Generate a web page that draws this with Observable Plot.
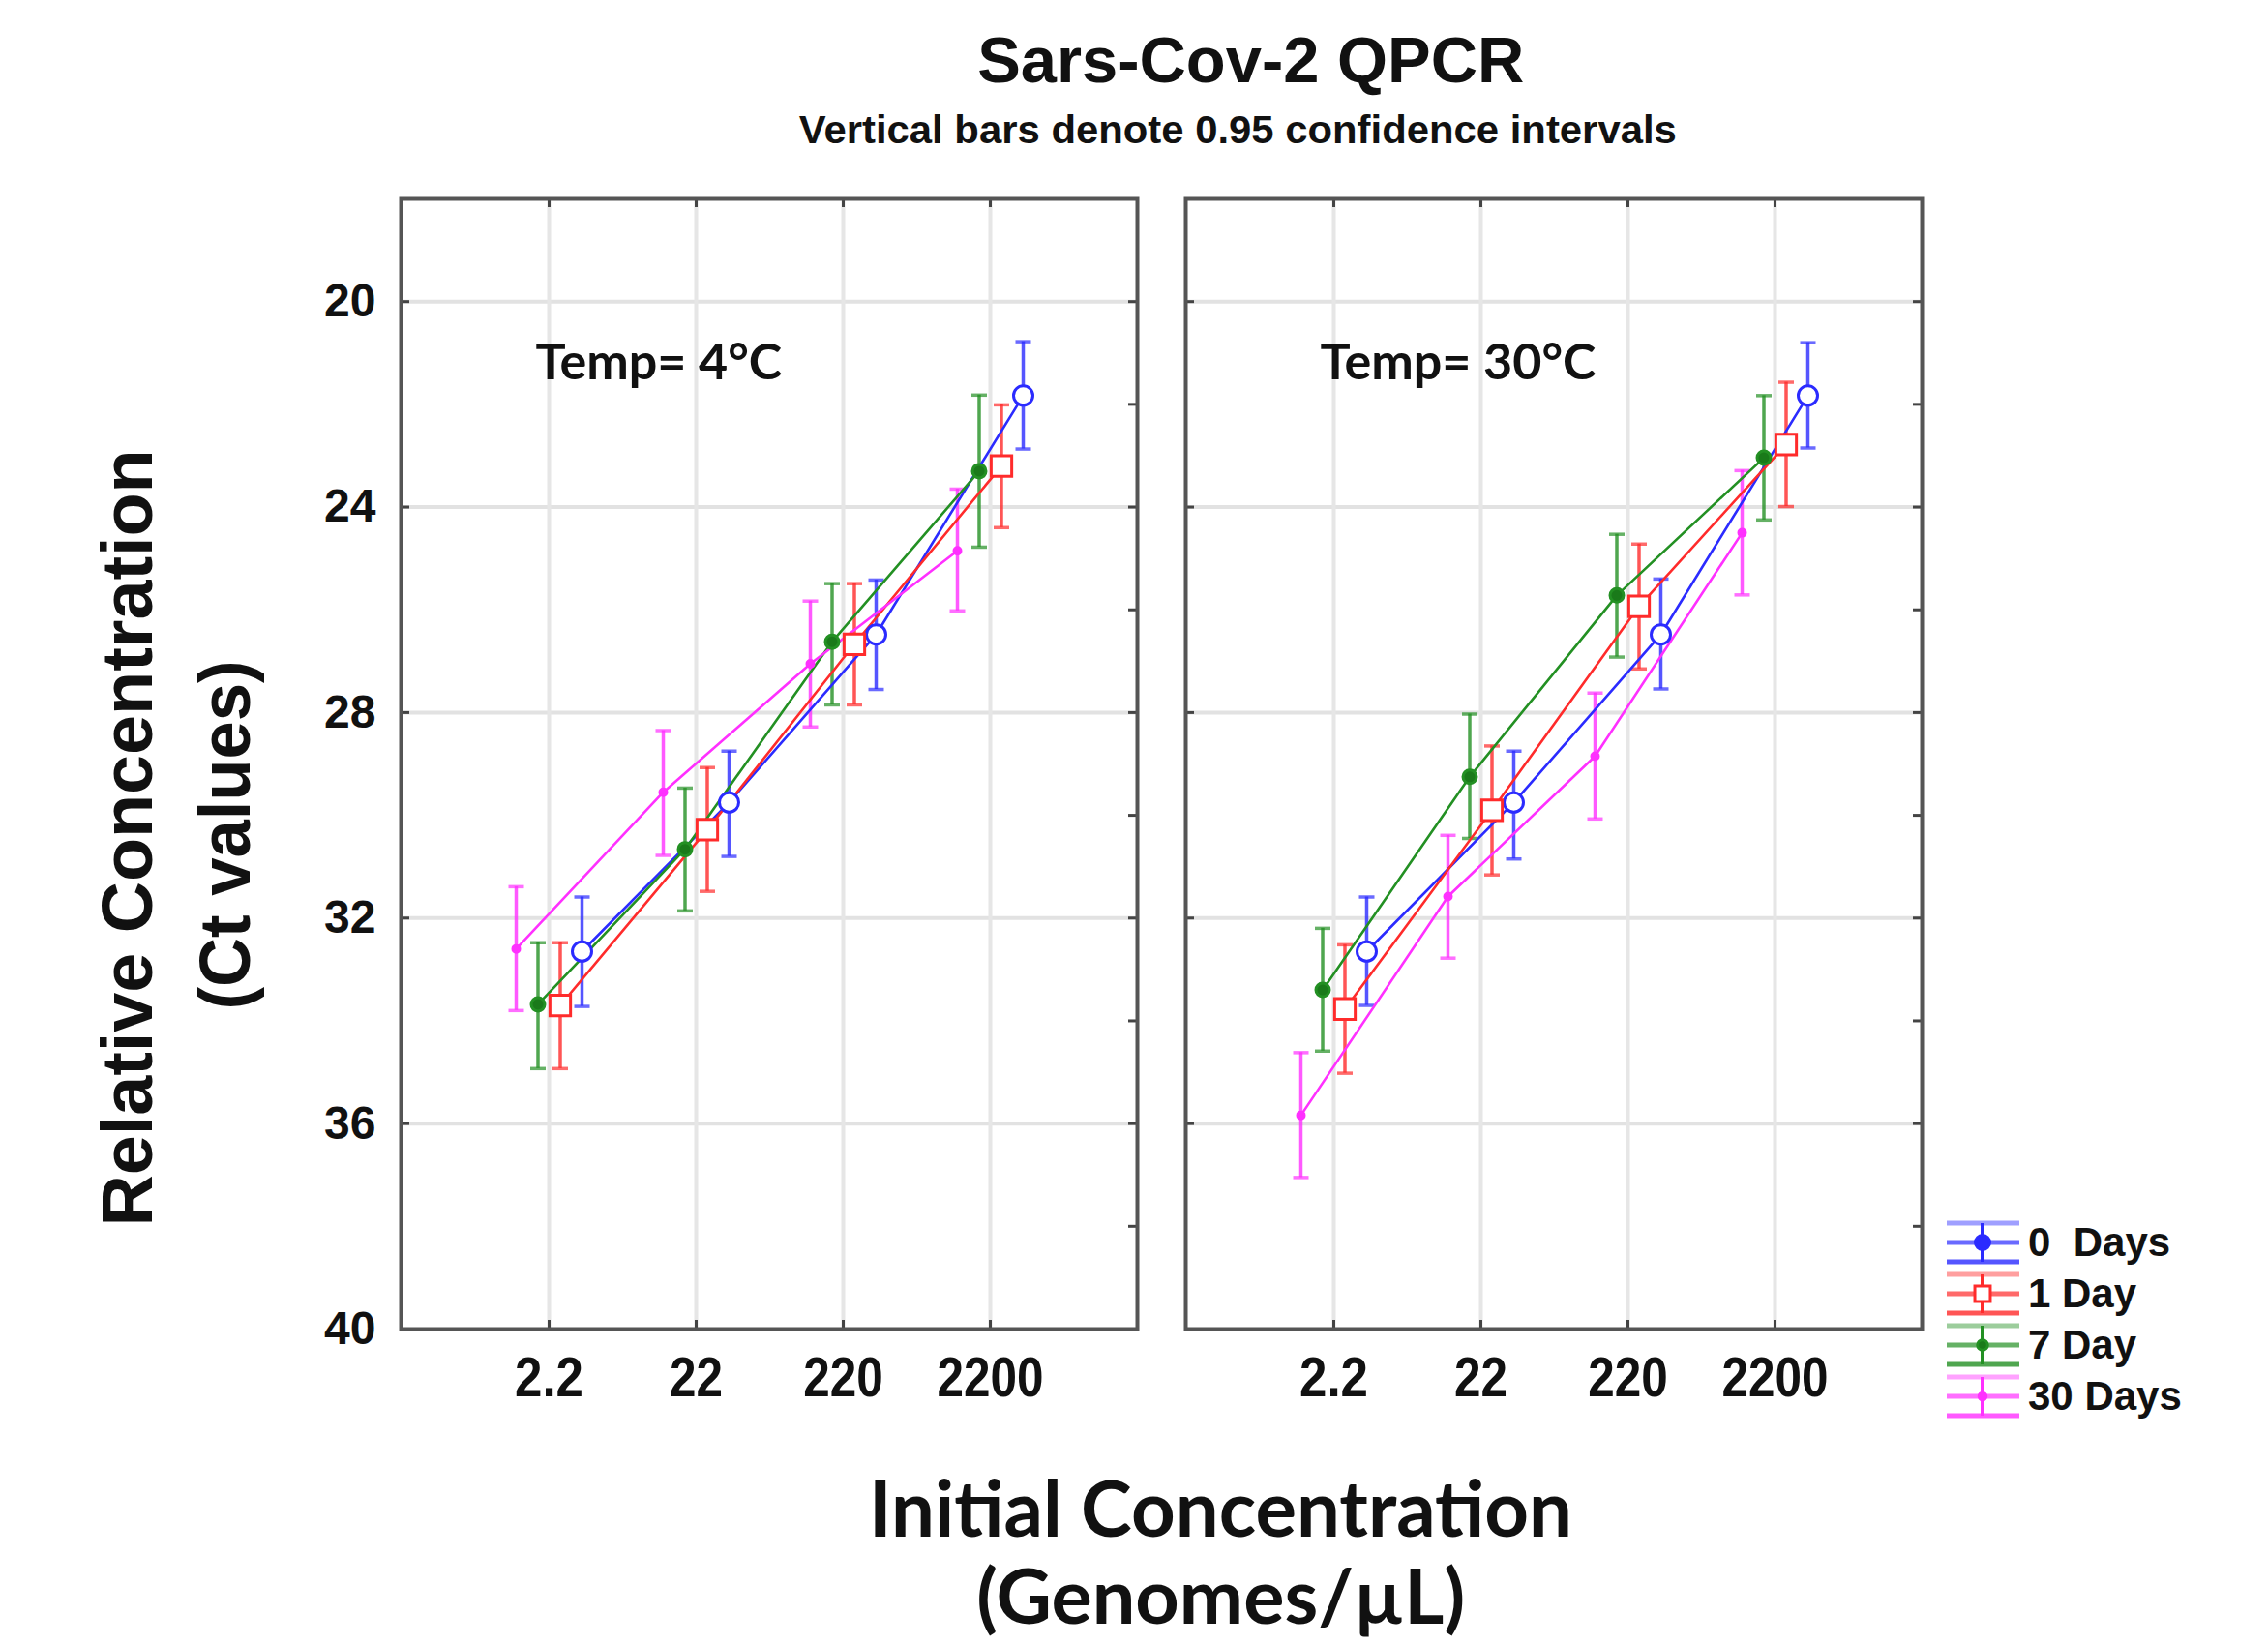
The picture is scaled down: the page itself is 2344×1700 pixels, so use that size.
<!DOCTYPE html>
<html><head><meta charset="utf-8">
<script src="https://cdn.jsdelivr.net/npm/d3@7"></script>
<script src="https://cdn.jsdelivr.net/npm/@observablehq/plot@0.6"></script>
<style>
html,body{margin:0;padding:0;background:#fff;}
#root{position:relative;width:2344px;height:1700px;overflow:hidden;background:#fff;}
.lbl{position:absolute;white-space:pre;line-height:1;color:#111;transform-origin:50% 50%;}
#plot{position:absolute;left:0;top:170px;}
#plot svg text{font-weight:bold;}
#legend{position:absolute;left:2010px;top:1258px;font-family:'Liberation Sans',Arial,sans-serif;font-weight:bold;font-size:42px;color:#111;}
#legend .row{position:relative;height:53px;}
#legend .row svg{position:absolute;left:0;top:3px;}
#legend .row span{position:absolute;left:86px;top:5px;white-space:pre;line-height:1;}
</style></head><body><div id="root"><div id="plot"></div><div id="legend"></div></div>
<script>
// ---------- data ----------
const concentrations = ["2.2", "22", "220", "2200"];
const temperatures = ["4°C", "30°C"];
const panelLabels = ["Temp= 4°C", "Temp= 30°C"];
const seriesNames = ["0  Days", "1 Day", "7 Day", "30 Days"];
const yTickValues = [20, 24, 28, 32, 36, 40];
const yGridValues = [20, 24, 28, 32, 36];
const yMinorValues = [20, 22, 24, 26, 28, 30, 32, 34, 36, 38];

// mean Ct, rows = series (0, 1, 7, 30 days), columns = concentrations
const ct4Mean = [
  [32.65, 29.75, 26.48, 21.83],
  [33.70, 30.28, 26.67, 23.20],
  [33.68, 30.66, 26.62, 23.30],
  [32.60, 29.55, 27.05, 24.85]
];
const ct4Low = [
  [31.59, 28.75, 25.42, 20.78],
  [32.48, 29.07, 25.49, 22.01],
  [32.48, 29.47, 25.49, 21.82],
  [31.39, 28.35, 25.83, 23.65]
];
const ct4High = [
  [33.72, 30.80, 27.55, 22.87],
  [34.93, 31.48, 27.85, 24.40],
  [34.93, 31.86, 27.85, 24.78],
  [33.80, 30.78, 28.28, 26.02]
];
const ct30Mean = [
  [32.65, 29.75, 26.48, 21.83],
  [33.77, 29.90, 25.93, 22.78],
  [33.40, 29.25, 25.72, 23.04],
  [35.84, 31.58, 28.85, 24.50]
];
const ct30Low = [
  [31.59, 28.75, 25.40, 20.80],
  [32.52, 28.65, 24.72, 21.57],
  [32.20, 28.03, 24.53, 21.83],
  [34.62, 30.39, 27.62, 23.29]
];
const ct30High = [
  [33.70, 30.85, 27.54, 22.85],
  [35.02, 31.16, 27.15, 23.99],
  [34.59, 30.45, 26.92, 24.25],
  [37.05, 32.78, 30.07, 25.71]
];

// ---------- styling ----------
const seriesColors = ["#2b2bff", "#ff2b2b", "#239023", "#ff30ff"];
const seriesDx = [34, 11.5, -11.5, -34];
const seriesSymbol = ["circle", "square", "circle", "circle"];
const seriesR = [10, 12, 7, 3.5];
const seriesFill = ["white", "white", "#1a7a1a", "#ff30ff"];

const tables = {"4°C": [ct4Mean, ct4Low, ct4High], "30°C": [ct30Mean, ct30Low, ct30High]};
const rows = [];
temperatures.forEach(t => {
  const [m, lo, hi] = tables[t];
  seriesNames.forEach((s, si) => {
    concentrations.forEach((c, ci) => {
      rows.push({temp: t, series: s, si, conc: c, ct: m[si][ci], lo: lo[si][ci], hi: hi[si][ci]});
    });
  });
});
const panels = temperatures.map((t, i) => ({temp: t, label: panelLabels[i]}));

const capSymbol = {draw(ctx, size) { const r = Math.sqrt(size / Math.PI); ctx.moveTo(-r, 0); ctx.lineTo(r, 0); }};

const W = 2344, H = 1300, ML = 414, MR = 358, MT = 35, MB = 97;
const PW = 761, PH = H - MT - MB;

const marks = [
  Plot.ruleY(yGridValues, {stroke: "#e2e2e2", strokeWidth: 4}),
  Plot.ruleX(concentrations, {stroke: "#e6e6e6", strokeWidth: 4}),
  Plot.tickY(yGridValues, {stroke: "#444", strokeWidth: 3, insetRight: PW - 9}),
  Plot.tickY(yMinorValues, {stroke: "#444", strokeWidth: 3, insetLeft: PW - 9}),
  Plot.tickX(concentrations, {stroke: "#444", strokeWidth: 3, insetBottom: PH - 9}),
  Plot.tickX(concentrations, {stroke: "#444", strokeWidth: 3, insetTop: PH - 9}),
  Plot.frame({stroke: "#555", strokeWidth: 4})
];
seriesNames.forEach((s, si) => {
  const d = rows.filter(r => r.si === si);
  const col = seriesColors[si], dx = seriesDx[si];
  marks.push(
    Plot.ruleX(d, {x: "conc", y1: "lo", y2: "hi", fx: "temp", dx, stroke: col, strokeWidth: 3.5, strokeOpacity: 0.8}),
    Plot.dot(d, {x: "conc", y: "lo", fx: "temp", dx, symbol: capSymbol, r: 8, stroke: col, strokeWidth: 3.5, strokeOpacity: 0.7, fill: "none"}),
    Plot.dot(d, {x: "conc", y: "hi", fx: "temp", dx, symbol: capSymbol, r: 8, stroke: col, strokeWidth: 3.5, strokeOpacity: 0.7, fill: "none"})
  );
});
seriesNames.forEach((s, si) => {
  const d = rows.filter(r => r.si === si);
  marks.push(Plot.line(d, {x: "conc", y: "ct", z: "temp", fx: "temp", dx: seriesDx[si], stroke: seriesColors[si], strokeWidth: 2.6}));
});
seriesNames.forEach((s, si) => {
  const d = rows.filter(r => r.si === si);
  marks.push(Plot.dot(d, {x: "conc", y: "ct", fx: "temp", dx: seriesDx[si], symbol: seriesSymbol[si], r: seriesR[si],
    stroke: seriesColors[si], strokeWidth: 3, fill: seriesFill[si]}));
});
marks.push(
  Plot.axisY(yTickValues, {tickSize: 0, tickPadding: 26, fontSize: 48, label: null, tickFormat: d => String(d)}),
  Plot.axisX({tickSize: 0, tickPadding: 29, fontSize: 57, label: null}),
  Plot.text(panels, {fx: "temp", text: "label", frameAnchor: "top-left", dx: 139, dy: 186, lineAnchor: "bottom",
    textAnchor: "start", fontSize: 52, fontWeight: "bold", fill: "#111", fontFamily: "Lato, 'Liberation Sans', sans-serif"})
);

const chart = Plot.plot({
  width: W, height: H,
  marginLeft: ML, marginRight: MR, marginTop: MT, marginBottom: MB,
  fx: {domain: temperatures, paddingInner: 0.0617, paddingOuter: 0, axis: null, label: null},
  x: {type: "point", domain: concentrations, padding: 1, label: null},
  y: {domain: [18, 40], reverse: true, label: null},
  style: {fontFamily: "'Liberation Sans', Arial, sans-serif", background: "white", color: "#111", overflow: "visible"},
  marks
});
document.getElementById("plot").appendChild(chart);

// condensed x tick labels
d3.select(chart).selectAll('g[aria-label="x-axis tick label"] text').each(function() {
  const t = this.textContent;
  const n = t.replace(/[^0-9]/g, "").length, p = t.length - n;
  d3.select(this).attr("textLength", n * 27.5 + p * 16).attr("lengthAdjust", "spacingAndGlyphs");
});

// ---------- titles ----------
const root = document.getElementById("root");
function placeText(txt, o) {
  const d = document.createElement("div");
  d.className = "lbl";
  d.style.fontSize = o.size + "px";
  d.style.fontFamily = o.family;
  d.style.fontWeight = o.weight || "bold";
  const sp = document.createElement("span"); sp.textContent = txt; d.appendChild(sp);
  const bl = document.createElement("span");
  bl.style.cssText = "display:inline-block;width:0;height:0;vertical-align:baseline";
  d.appendChild(bl);
  root.appendChild(d);
  const w = sp.getBoundingClientRect().width;
  const h = d.getBoundingClientRect().height;
  const base = bl.offsetTop;
  const s = o.target ? o.target / w : 1;
  if (!o.rotate) {
    d.style.left = (o.cx - w / 2) + "px";
    d.style.top = (o.baseline - base) + "px";
    d.style.transform = `scaleX(${s})`;
  } else {
    const boxCx = o.baseline - base + h / 2;
    d.style.left = (boxCx - w / 2) + "px";
    d.style.top = (o.cy - h / 2) + "px";
    d.style.transform = `rotate(-90deg) scaleX(${s})`;
  }
}
const arial = "'Liberation Sans', Arial, sans-serif";
const calib = "Lato, 'Open Sans', sans-serif";
placeText("Sars-Cov-2 QPCR", {cx: 1293, baseline: 85, size: 66, family: arial, target: 565});
placeText("Vertical bars denote 0.95 confidence intervals", {cx: 1279, baseline: 148, size: 41, family: arial, target: 907});
placeText("Initial Concentration", {cx: 1262, baseline: 1588, size: 81, family: calib, target: 727});
placeText("(Genomes/µL)", {cx: 1262, baseline: 1678, size: 78, family: calib, target: 505});
placeText("Relative Concentration", {rotate: true, cy: 866, baseline: 157, size: 74, family: arial, target: 803});
placeText("(Ct values)", {rotate: true, cy: 863, baseline: 258, size: 74, family: arial, target: 361});

// ---------- legend ----------
const legend = document.getElementById("legend");
seriesNames.forEach((s, si) => {
  const row = document.createElement("div"); row.className = "row";
  const col = seriesColors[si];
  const ns = "http://www.w3.org/2000/svg";
  const svg = document.createElementNS(ns, "svg");
  svg.setAttribute("width", 80); svg.setAttribute("height", 48);
  const line = (x1, y1, x2, y2, w, op) => {
    const l = document.createElementNS(ns, "line");
    l.setAttribute("x1", x1); l.setAttribute("y1", y1); l.setAttribute("x2", x2); l.setAttribute("y2", y2);
    l.setAttribute("stroke", col); l.setAttribute("stroke-width", w); l.setAttribute("stroke-opacity", op);
    svg.appendChild(l);
  };
  line(2, 3, 77, 3, 5, 0.45);
  line(2, 43, 77, 43, 5, 0.8);
  line(2, 23, 77, 23, 5, 0.7);
  line(39, 3, 39, 43, 4, 1);
  const sym = d3.symbol(seriesSymbol[si] === "square" ? d3.symbolSquare : d3.symbolCircle, Math.PI * Math.pow(Math.max(seriesR[si], 5) * 0.75, 2))();
  const p = document.createElementNS(ns, "path");
  p.setAttribute("d", sym); p.setAttribute("transform", "translate(39,23)");
  p.setAttribute("fill", si === 0 ? col : seriesFill[si]); p.setAttribute("stroke", col); p.setAttribute("stroke-width", 3);
  svg.appendChild(p);
  row.appendChild(svg);
  const sp = document.createElement("span"); sp.textContent = s; row.appendChild(sp);
  legend.appendChild(row);
});
</script></body></html>
